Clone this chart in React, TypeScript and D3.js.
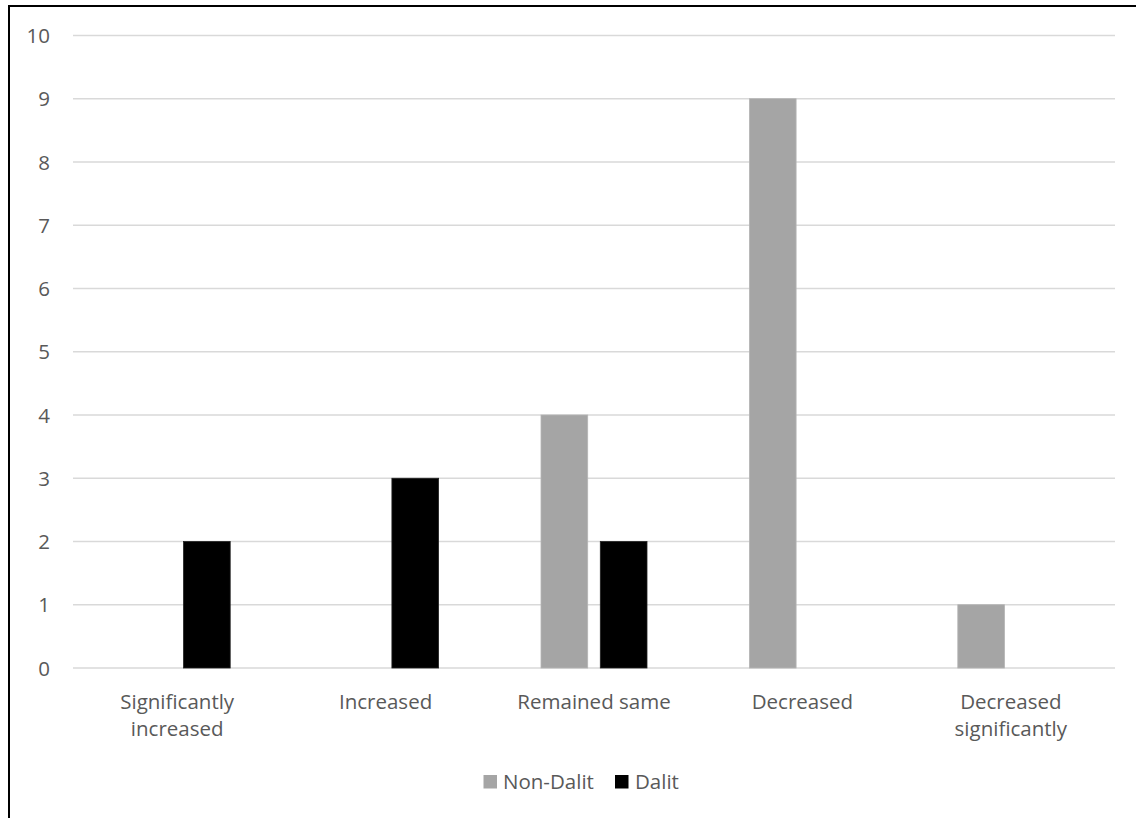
import React from "react";
import * as d3 from "d3";

const categories = ["Significantly increased", "Increased", "Remained same", "Decreased", "Decreased significantly"];
const categoryLines = [["Significantly", "increased"], ["Increased"], ["Remained same"], ["Decreased"], ["Decreased", "significantly"]];
const seriesNames = ["Non-Dalit", "Dalit"];
const nonDalit = [0, 0, 4, 9, 1];
const dalit = [2, 3, 2, 0, 0];
const yTicks = [0, 1, 2, 3, 4, 5, 6, 7, 8, 9, 10];
const colors = ["#A5A5A5", "#000000"];

export default function App() {
  const W = 1136, H = 818;
  const x = d3.scaleBand<string>().domain(categories).range([73, 1115]).padding(0);
  const y = d3.scaleLinear().domain([0, 10]).range([668, 35.5]);
  const inner = d3.scaleBand<string>().domain(seriesNames).range([-53, 53]).paddingInner(0.2125).paddingOuter(0);
  const values = [nonDalit, dalit];
  const font = "'Open Sans', sans-serif";
  const fs = 20.5;
  const textColor = "#595959";

  return (
    <svg width={W} height={H} style={{ position: "absolute", left: 0, top: 0 }}>
      <rect x={0} y={0} width={W} height={H} fill="#fff" />
      <rect x={9} y={6} width={W + 20} height={H + 20} fill="none" stroke="#000" strokeWidth={2} />
      {yTicks.map((t) => (
        <g key={t}>
          <line x1={73} x2={1115} y1={y(t)} y2={y(t)} stroke="#D9D9D9" strokeWidth={1.5} />
          <text x={50} y={y(t) + 7.6} textAnchor="end" fontFamily={font} fontSize={fs} fill={textColor}>{t}</text>
        </g>
      ))}
      {categories.map((c, i) => (
        <g key={c}>
          {seriesNames.map((s, si) => {
            const v = values[si][i];
            if (v <= 0) return null;
            const cx = (x(c) as number) + x.bandwidth() / 2;
            return (
              <rect key={s} x={cx + (inner(s) as number)} y={y(v)} width={inner.bandwidth()} height={y(0) - y(v)}
                fill={colors[si]} stroke={si === 0 ? "#B5B5B5" : "#222"} strokeWidth={0.8} />
            );
          })}
          {categoryLines[i].map((ln, li) => (
            <text key={li} x={(x(c) as number) + x.bandwidth() / 2} y={709 + li * 27} textAnchor="middle"
              fontFamily={font} fontSize={fs} fill={textColor}>{ln}</text>
          ))}
        </g>
      ))}
      <g>
        <rect x={483.5} y={775} width={13.5} height={13.5} fill={colors[0]} />
        <text x={503} y={789} fontFamily={font} fontSize={fs} fill={textColor}>{seriesNames[0]}</text>
        <rect x={615} y={775} width={13.5} height={13.5} fill={colors[1]} />
        <text x={635} y={789} fontFamily={font} fontSize={fs} fill={textColor}>{seriesNames[1]}</text>
      </g>
    </svg>
  );
}
